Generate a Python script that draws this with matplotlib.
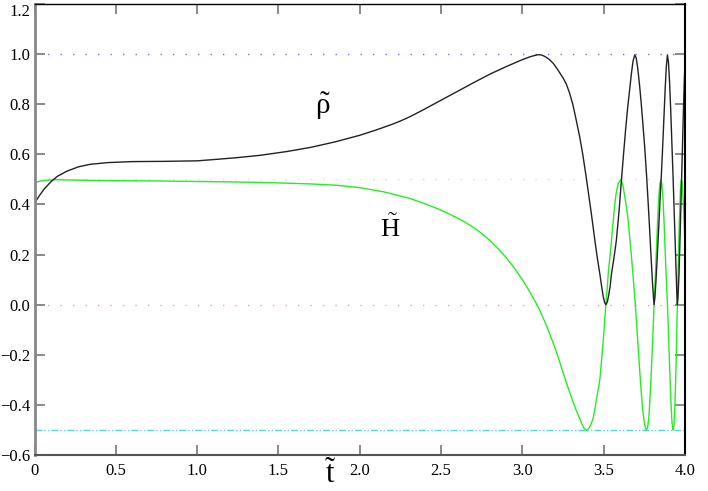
import numpy as np
import matplotlib
matplotlib.use('Agg')
import matplotlib.pyplot as plt
import matplotlib.transforms as mtransforms

plt.rcParams['font.family'] = 'serif'
plt.rcParams['font.serif'] = ['Liberation Serif', 'DejaVu Serif']
plt.rcParams['mathtext.fontset'] = 'custom'
plt.rcParams['mathtext.rm'] = 'Liberation Serif'
plt.rcParams['mathtext.it'] = 'Liberation Serif'

# rho~ (black curve)
t_rho = [0.0, 0.03, 0.06, 0.1, 0.14, 0.2, 0.27, 0.34, 0.45, 0.6, 0.8, 1.0,
         1.12, 1.25, 1.386, 1.55, 1.7, 1.85, 2.0, 2.1, 2.2, 2.25, 2.308,
         2.35, 2.4, 2.5, 2.6, 2.7, 2.8, 2.9, 3.0, 3.05, 3.097, 3.12, 3.14,
         3.165, 3.19, 3.21, 3.23, 3.25, 3.27, 3.29, 3.31, 3.33, 3.353, 3.37,
         3.39, 3.414, 3.43, 3.445, 3.46, 3.476, 3.488, 3.498, 3.506, 3.513,
         3.522, 3.53, 3.54, 3.548, 3.563, 3.578, 3.594, 3.609, 3.622, 3.635,
         3.648, 3.66, 3.67, 3.68, 3.691,
         3.7, 3.71, 3.72, 3.73, 3.74, 3.752, 3.763, 3.775, 3.785, 3.793,
         3.8, 3.806, 3.81,
         3.815, 3.822, 3.83, 3.84, 3.848, 3.855, 3.862, 3.87, 3.878, 3.885,
         3.892,
         3.898, 3.905, 3.912, 3.919, 3.926, 3.933, 3.94, 3.946, 3.95, 3.953,
         3.957, 3.963, 3.97, 3.977, 3.984, 3.99, 3.996, 4.0]
rho = [0.405, 0.435, 0.462, 0.49, 0.512, 0.533, 0.55, 0.56, 0.567, 0.571,
       0.572, 0.574, 0.58, 0.587, 0.596, 0.611, 0.628, 0.65, 0.676, 0.697,
       0.72, 0.733, 0.75, 0.764, 0.781, 0.816, 0.851, 0.886, 0.92, 0.95,
       0.978, 0.99, 0.998, 0.996, 0.99, 0.979, 0.963, 0.945, 0.925, 0.905,
       0.881, 0.845, 0.8, 0.74, 0.668, 0.605, 0.52, 0.41, 0.335, 0.26, 0.19,
       0.124, 0.07, 0.03, 0.008, 0.0,
       0.01, 0.035, 0.075, 0.124, 0.185, 0.257, 0.37, 0.496, 0.6, 0.7,
       0.79, 0.86, 0.92, 0.97, 0.997,
       0.985, 0.94, 0.88, 0.81, 0.73, 0.63, 0.523, 0.39, 0.27, 0.17,
       0.09, 0.03, 0.0,
       0.03, 0.1, 0.2, 0.33, 0.44, 0.523, 0.62, 0.74, 0.86, 0.95,
       0.997,
       0.97, 0.89, 0.78, 0.65, 0.523, 0.38, 0.24, 0.12, 0.04, 0.0,
       0.03, 0.12, 0.28, 0.45, 0.62, 0.77, 0.9, 0.96]

# H~ (green curve)
t_h = [0.0, 0.05, 0.126, 0.25, 0.464, 0.7, 0.956, 1.2, 1.447, 1.693, 1.85,
       2.0, 2.15, 2.308, 2.4, 2.49, 2.55, 2.6, 2.65, 2.7, 2.75, 2.8, 2.85,
       2.9, 2.95, 3.0, 3.04, 3.087, 3.107, 3.138, 3.163, 3.189, 3.215, 3.24,
       3.265, 3.291, 3.31, 3.33, 3.353, 3.365, 3.378, 3.394, 3.408, 3.42,
       3.435, 3.445, 3.455, 3.466, 3.476, 3.486, 3.495, 3.505, 3.513,
       3.522, 3.53, 3.54, 3.548, 3.558, 3.568, 3.578, 3.59, 3.603,
       3.612, 3.62, 3.63, 3.64, 3.65, 3.66, 3.67, 3.68, 3.691, 3.701, 3.71,
       3.72, 3.73, 3.74, 3.75, 3.757, 3.763,
       3.77, 3.778, 3.786, 3.794, 3.802, 3.81, 3.818, 3.826, 3.834, 3.841,
       3.846, 3.852,
       3.858, 3.865, 3.872, 3.879, 3.886, 3.892, 3.899, 3.906, 3.913,
       3.919, 3.924, 3.928,
       3.933, 3.939, 3.946, 3.953, 3.96, 3.966, 3.972, 3.977,
       3.982, 3.988, 3.994, 4.0]
H = [0.488, 0.495, 0.499, 0.497, 0.495, 0.494, 0.492, 0.49, 0.487, 0.482,
     0.477, 0.467, 0.45, 0.424, 0.403, 0.38, 0.362, 0.346, 0.328, 0.308,
     0.284, 0.256, 0.224, 0.188, 0.147, 0.1, 0.057, 0.003, -0.023, -0.068,
     -0.108, -0.152, -0.2, -0.25, -0.3, -0.35, -0.385, -0.42, -0.455,
     -0.475, -0.492, -0.502, -0.495, -0.48, -0.455, -0.42, -0.38, -0.34,
     -0.301, -0.23, -0.16, -0.08, 0.0,
     0.07, 0.14, 0.2, 0.257, 0.33, 0.4, 0.45, 0.485, 0.498,
     0.49, 0.47, 0.43, 0.39, 0.34, 0.27, 0.2, 0.12, 0.03, -0.06, -0.15,
     -0.25, -0.34, -0.42, -0.47, -0.493, -0.5,
     -0.49, -0.45, -0.36, -0.25, -0.13, 0.0, 0.12, 0.25, 0.37, 0.45,
     0.485, 0.498,
     0.48, 0.42, 0.32, 0.2, 0.09, 0.0, -0.12, -0.26, -0.38,
     -0.46, -0.495, -0.5,
     -0.48, -0.38, -0.22, 0.0, 0.2, 0.35, 0.46, 0.497,
     0.49, 0.43, 0.34, 0.24]

ref_levels = [1.0, 0.5, 0.0, -0.5]
x_ticks = [0, 0.5, 1.0, 1.5, 2.0, 2.5, 3.0, 3.5, 4.0]
x_labels = ['0', '0.5', '1.0', '1.5', '2.0', '2.5', '3.0', '3.5', '4.0']
y_ticks = [-0.6, -0.4, -0.2, 0.0, 0.2, 0.4, 0.6, 0.8, 1.0, 1.2]
y_labels = ['\u22120.6', '\u22120.4', '\u22120.2', '0.0', '0.2', '0.4',
            '0.6', '0.8', '1.0', '1.2']

fig = plt.figure(figsize=(7.08, 4.91), dpi=100)
ax = fig.add_axes([34.5/708, 1 - 455/491, (685 - 34.5)/708, (455 - 4)/491])

# dotted reference lines
ax.axhline(ref_levels[0], color='#7070ff', lw=1, ls=(0, (1, 8)))
ax.axhline(ref_levels[1], color='#a8f4f4', lw=1, ls=(0, (1, 8)))
ax.axhline(ref_levels[2], color='#ff9a9a', lw=1, ls=(0, (1, 8)))
ax.axhline(ref_levels[3], color='#50d8d8', lw=1, ls=(0, (5, 1.5, 1, 1.5, 1, 1.5)))

ax.plot(t_h, H, color='#22ee22', lw=1)
ax.plot(t_rho, rho, color='#222222', lw=1)

ax.set_xlim(0, 4.0)
ax.set_ylim(-0.6, 1.2)
ax.set_xticks(x_ticks)
ax.set_xticklabels(x_labels)
ax.set_yticks(y_ticks)
ax.set_yticklabels(y_labels)
ax.tick_params(direction='in', length=7, width=1.2, color='#777777',
               labelsize=12, top=True, right=True, pad=6)
ax.tick_params(axis='y', pad=3)

ax.spines['left'].set_color('#888888')
ax.spines['left'].set_linewidth(2)
ax.spines['bottom'].set_color('#555555')
ax.spines['bottom'].set_linewidth(1.5)
ax.spines['top'].set_color('black')
ax.spines['top'].set_linewidth(1)
ax.spines['right'].set_color('black')
ax.spines['right'].set_linewidth(1.5)

ax.get_yticklabels()[-1].set_va('top')

ax.text(1.77, 0.79, r'$\tilde{\rho}$', fontsize=21, ha='center', va='center')
ax.text(2.19, 0.305, r'$\tilde{\mathrm{H}}$', fontsize=19, ha='center', va='center')

trans = mtransforms.blended_transform_factory(ax.transData, fig.transFigure)
ax.text(1.82, 1 - 475/491, r'$\tilde{t}$', fontsize=22, ha='center',
        va='center', transform=trans)

fig.savefig('out.png', dpi=100)
